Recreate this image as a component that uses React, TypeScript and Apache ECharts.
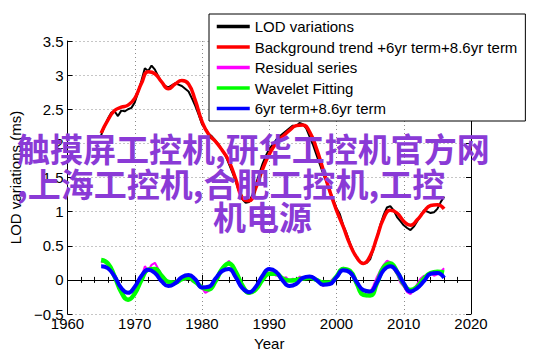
import React, { useEffect, useRef } from "react";
import * as echarts from "echarts";

const lodYears = [
  1965.0, 1965.5, 1966.0, 1966.5, 1967.0, 1967.5, 1968.0, 1968.5, 1969.0, 1969.5,
  1970.0, 1970.5, 1971.0, 1971.5, 1972.0, 1972.5, 1973.0, 1973.5, 1974.0, 1974.5,
  1975.0, 1975.5, 1976.0, 1976.5, 1977.0, 1977.5, 1978.0, 1978.5, 1979.0, 1979.5,
  1980.0, 1980.5, 1981.0, 1981.5, 1982.0, 1982.5, 1983.0, 1983.5, 1984.0, 1984.5,
  1985.0, 1985.5, 1986.0, 1986.5, 1987.0, 1987.5, 1988.0, 1988.5, 1989.0, 1989.5,
  1990.0, 1990.5, 1991.0, 1991.5, 1992.0, 1992.5, 1993.0, 1993.5, 1994.0, 1994.5,
  1995.0, 1995.5, 1996.0, 1996.5, 1997.0, 1997.5, 1998.0, 1998.5, 1999.0, 1999.5,
  2000.0, 2000.5, 2001.0, 2001.5, 2002.0, 2002.5, 2003.0, 2003.5, 2004.0, 2004.5,
  2005.0, 2005.5, 2006.0, 2006.5, 2007.0, 2007.5, 2008.0, 2008.5, 2009.0, 2009.5,
  2010.0, 2010.5, 2011.0, 2011.5, 2012.0, 2012.5, 2013.0, 2013.5, 2014.0, 2014.5,
  2015.0, 2015.5, 2016.0,
];

const lodValues = [
  2.12, 2.25, 2.36, 2.45, 2.47, 2.40, 2.48, 2.47, 2.50, 2.52,
  2.60, 2.75, 2.92, 3.10, 3.06, 3.14, 3.08, 2.98, 2.90, 2.84,
  2.82, 2.85, 2.88, 2.86, 2.84, 2.80, 2.76, 2.66, 2.55, 2.42,
  2.28, 2.22, 2.14, 2.10, 2.04, 1.98, 1.90, 1.82, 1.70, 1.58,
  1.45, 1.30, 1.18, 1.13, 1.14, 1.25, 1.40, 1.55, 1.70, 1.82,
  1.92, 1.98, 2.05, 2.10, 2.14, 2.18, 2.22, 2.26, 2.25, 2.30,
  2.28, 2.22, 2.10, 1.98, 1.84, 1.70, 1.56, 1.44, 1.30, 1.18,
  1.05, 0.96, 0.80, 0.68, 0.54, 0.42, 0.32, 0.27, 0.24, 0.25,
  0.30, 0.45, 0.62, 0.80, 0.95, 1.06, 1.08, 1.02, 0.92, 0.86,
  0.80, 0.76, 0.73, 0.78, 0.86, 0.94, 1.02, 1.00, 0.98, 0.99,
  1.04, 1.14, 1.22,
];

const residualValues = [
  0.25, 0.30, 0.22, 0.18, 0.04, -0.08, -0.20, -0.27, -0.30, -0.27,
  -0.18, -0.08, 0.04, 0.20, 0.14, 0.22, 0.25, 0.16, 0.08, 0.02,
  -0.04, -0.02, -0.06, -0.03, 0.02, 0.00, 0.04, -0.02, -0.04, -0.08,
  -0.12, -0.19, -0.16, -0.08, 0.00, 0.10, 0.18, 0.22, 0.28, 0.20,
  0.10, 0.02, -0.08, -0.16, -0.21, -0.18, -0.12, -0.06, 0.02, 0.08,
  0.10, 0.12, 0.06, 0.08, 0.02, 0.04, -0.02, 0.02, -0.03, 0.05,
  0.02, 0.06, 0.03, 0.05, -0.02, -0.04, -0.09, -0.06, -0.03, 0.02,
  0.05, 0.12, 0.18, 0.14, 0.10, 0.02, -0.08, -0.16, -0.22, -0.24,
  -0.18, -0.08, 0.04, 0.14, 0.22, 0.28, 0.26, 0.16, 0.08, -0.04,
  -0.10, -0.18, -0.21, -0.14, -0.06, 0.02, 0.06, 0.04, 0.10, 0.06,
  0.08, 0.12, 0.17,
];

const fitYears = [
  1965, 1966, 1967, 1968, 1969, 1970, 1971, 1972, 1973, 1974,
  1975, 1976, 1977, 1978, 1979, 1980, 1981, 1982, 1983, 1984,
  1985, 1986, 1987, 1988, 1989, 1990, 1991, 1992, 1993, 1994,
  1995, 1996, 1997, 1998, 1999, 2000, 2001, 2002, 2003, 2004,
  2005, 2006, 2007, 2008, 2009, 2010, 2011, 2012, 2013, 2014,
  2015, 2016,
];

const backgroundValues = [
  2.15, 2.34, 2.48, 2.53, 2.56, 2.66, 2.88, 3.05, 3.02, 2.90,
  2.80, 2.87, 2.92, 2.87, 2.63, 2.32, 2.13, 2.03, 1.90, 1.74,
  1.48, 1.20, 1.16, 1.35, 1.62, 1.84, 2.00, 2.10, 2.19, 2.26,
  2.27, 2.17, 1.93, 1.62, 1.30, 1.02, 0.78, 0.52, 0.33, 0.24,
  0.35, 0.62, 0.90, 1.02, 0.98, 0.86, 0.80, 0.88, 1.00, 1.09,
  1.10, 1.04,
];

const waveletValues = [
  0.29, 0.24, 0.05, -0.18, -0.29, -0.20, 0.00, 0.15, 0.16, 0.06,
  -0.03, -0.04, 0.01, 0.03, -0.03, -0.11, -0.14, -0.02, 0.16, 0.24,
  0.12, -0.08, -0.19, -0.14, 0.00, 0.09, 0.09, 0.02, -0.01, 0.00,
  0.02, 0.03, 0.00, -0.04, -0.04, 0.05, 0.16, 0.13, -0.05, -0.22,
  -0.23, -0.05, 0.18, 0.24, 0.12, -0.06, -0.15, -0.10, 0.02, 0.10,
  0.12, 0.11,
];

const termValues = [
  0.20, 0.17, 0.05, -0.12, -0.19, -0.10, 0.06, 0.15, 0.10, -0.02,
  -0.09, -0.05, 0.04, 0.07, 0.01, -0.11, -0.10, 0.02, 0.13, 0.16,
  0.04, -0.12, -0.18, -0.10, 0.06, 0.16, 0.12, -0.01, -0.09, -0.06,
  0.03, 0.05, 0.00, -0.07, -0.06, 0.04, 0.14, 0.11, -0.03, -0.15,
  -0.17, -0.04, 0.14, 0.20, 0.12, -0.05, -0.17, -0.12, -0.02, 0.09,
  0.10, 0.03,
];

const seriesNames = [
  "LOD variations",
  "Background trend +6yr term+8.6yr term",
  "Residual series",
  "Wavelet Fitting",
  "6yr term+8.6yr term",
];

const watermarkLines = [
  "触摸屏工控机,研华工控机官方网",
  ",上海工控机,合肥工控机,工控",
  "机电源",
];

const FONT = "'Liberation Sans', Arial, Helvetica, sans-serif";
const WM_FONT = "bold 33px 'Noto Sans CJK SC'";
const WM_COLOR = "#8a3ad6";

function pairs(xs: number[], ys: number[]) {
  return xs.map((x, i) => [x, ys[i]]);
}

export default function App() {
  const ref = useRef<HTMLDivElement>(null);

  useEffect(() => {
    if (!ref.current) return;
    const chart = echarts.init(ref.current, undefined, { renderer: "svg" });

    const gridSplit = {
      show: true,
      lineStyle: { color: "#8c8c8c", width: 1, type: [1, 3] as any },
    };
    const axisLine = { show: true, lineStyle: { color: "#000", width: 1 } };

    const lineSeries = (
      name: string,
      data: number[][],
      color: string,
      width: number,
      smooth: boolean
    ) => ({
      name,
      type: "line",
      data,
      symbol: "none",
      showSymbol: false,
      smooth,
      lineStyle: { color, width },
      itemStyle: { color },
      xAxisIndex: 0,
      yAxisIndex: 0,
    });

    chart.setOption({
      animation: false,
      backgroundColor: "#fff",
      textStyle: { fontFamily: FONT },
      grid: { left: 55, top: 41, width: 416, height: 273, containLabel: false },
      xAxis: [
        {
          type: "value",
          position: "bottom",
          min: 1960,
          max: 2020,
          interval: 10,
          axisLine,
          axisTick: { show: true, inside: true, length: 5, lineStyle: { color: "#000" } },
          minorTick: { show: true, splitNumber: 5, length: 3, lineStyle: { color: "#000" } },
          splitLine: gridSplit,
          axisLabel: {
            color: "#000",
            fontSize: 15,
            fontFamily: FONT,
            margin: 2,
            formatter: (v: number) => String(v),
          },
          name: "Year",
          nameLocation: "middle",
          nameGap: 21,
          nameTextStyle: { color: "#000", fontSize: 15, fontFamily: FONT },
        },
        {
          type: "value",
          position: "top",
          min: 1960,
          max: 2020,
          interval: 10,
          axisLine,
          axisTick: { show: true, inside: true, length: 5, lineStyle: { color: "#000" } },
          minorTick: { show: true, splitNumber: 5, length: 3, lineStyle: { color: "#000" } },
          splitLine: { show: false },
          axisLabel: { show: false },
        },
      ],
      yAxis: [
        {
          type: "value",
          position: "left",
          min: -0.5,
          max: 3.5,
          interval: 0.5,
          axisLine,
          axisTick: { show: true, inside: true, length: 5, lineStyle: { color: "#000" } },
          splitLine: gridSplit,
          axisLabel: {
            color: "#000",
            fontSize: 15,
            fontFamily: FONT,
            margin: 4,
            formatter: (v: number) => (v < 0 ? "\u2212" + String(-v) : String(v)),
          },
          name: "LOD variations (ms)",
          nameLocation: "middle",
          nameGap: 27,
          nameTextStyle: { color: "#000", fontSize: 15, fontFamily: FONT },
        },
        {
          type: "value",
          position: "right",
          min: -0.5,
          max: 3.5,
          interval: 0.5,
          axisLine,
          axisTick: { show: true, inside: true, length: 5, lineStyle: { color: "#000" } },
          splitLine: { show: false },
          axisLabel: { show: false },
        },
      ],
      legend: {
        show: true,
        orient: "vertical",
        left: 209,
        top: 14,
        padding: [5, 8, 5, 6],
        itemGap: 5.5,
        itemWidth: 33,
        itemHeight: 14,
        backgroundColor: "#fff",
        borderColor: "#000",
        borderWidth: 1,
        borderRadius: 0,
        itemStyle: { opacity: 0, color: "rgba(0,0,0,0)", borderWidth: 0 },
        lineStyle: { width: 3.5 },
        textStyle: { color: "#000", fontSize: 15, fontFamily: FONT, lineHeight: 15 },
        data: seriesNames,
      },
      series: [
        lineSeries(seriesNames[0], pairs(lodYears, lodValues), "#000000", 2, false),
        lineSeries(seriesNames[1], pairs(fitYears, backgroundValues), "#ff0000", 3.5, true),
        lineSeries(seriesNames[2], pairs(lodYears, residualValues), "#ff00ff", 2, false),
        lineSeries(seriesNames[3], pairs(fitYears, waveletValues), "#00ff00", 4.5, true),
        lineSeries(seriesNames[4], pairs(fitYears, termValues), "#0000ff", 4, true),
      ],
      graphic: [
        {
          type: "text",
          x: 17,
          y: 148,
          z: 100,
          style: {
            text: watermarkLines[0],
            font: WM_FONT,
            fill: WM_COLOR,
            align: "left",
            verticalAlign: "middle",
          },
        },
        {
          type: "text",
          x: 17,
          y: 183,
          z: 100,
          style: {
            text: watermarkLines[1],
            font: WM_FONT,
            fill: WM_COLOR,
            align: "left",
            verticalAlign: "middle",
          },
        },
        {
          type: "text",
          x: 213,
          y: 216,
          z: 100,
          style: {
            text: watermarkLines[2],
            font: WM_FONT,
            fill: WM_COLOR,
            align: "left",
            verticalAlign: "middle",
          },
        },
      ],
    });

    return () => {
      chart.dispose();
    };
  }, []);

  return (
    <div
      ref={ref}
      style={{ position: "absolute", left: 0, top: 0, width: 542, height: 356, background: "#fff" }}
    />
  );
}
